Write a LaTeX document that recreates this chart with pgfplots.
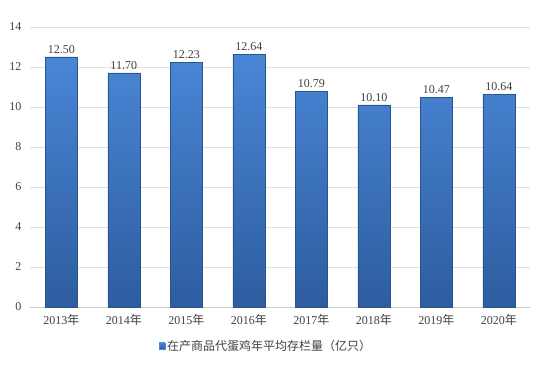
\documentclass[border=0pt]{standalone}
\usepackage{pgfplots}
\pgfplotsset{compat=1.18}
\usepackage{fontspec}
\setmainfont{Liberation Serif}
\newfontfamily\cjk{Noto Sans CJK SC}
\definecolor{bartop}{HTML}{4A86D6}
\definecolor{barbot}{HTML}{2D5D9F}
\definecolor{txt}{HTML}{404040}
\begin{document}
\begin{tikzpicture}
\begin{axis}[
  scale only axis, width=500pt, height=280pt,
  xmin=-0.5, xmax=7.5, ymin=0, ymax=14,
  ytick={0,2,...,14},
  xtick={0,...,7},
  xticklabels={2013{\cjk 年},2014{\cjk 年},2015{\cjk 年},2016{\cjk 年},2017{\cjk 年},2018{\cjk 年},2019{\cjk 年},2020{\cjk 年}},
  /pgf/number format/assume math mode=true,
  tick label style={font=\fontsize{12}{14}\selectfont, text=txt},
  yticklabel style={xshift=-5pt},
  xticklabel style={yshift=-4pt},
  axis line style={draw=none},
  axis x line*=bottom,
  x axis line style={draw=gray!40, line width=0.8pt},
  major tick length=0pt,
  ymajorgrids, grid style={draw=gray!25, line width=0.7pt},
  ybar, bar width=32pt,
  nodes near coords,
  nodes near coords style={font=\fontsize{12}{14}\selectfont, text=txt, /pgf/number format/.cd, fixed, fixed zerofill, precision=2, assume math mode=true},
  clip=false,
  legend style={at={(0.472,-0.139)}, anchor=center, draw=none, font=\fontsize{12}{14}\selectfont\cjk\color{txt}, inner sep=1pt},
  legend image code/.code={\fill[barbot, draw=bartop] (0pt,-3pt) rectangle (6pt,3pt);},
]
\addplot[draw=barbot!90!black, top color=bartop, bottom color=barbot, line width=0.4pt] coordinates {
(0,12.50) (1,11.70) (2,12.23) (3,12.64) (4,10.79) (5,10.10) (6,10.47) (7,10.64)};
\addlegendentry{在产商品代蛋鸡年平均存栏量（亿只）}
\end{axis}
\path (-30pt,-57pt) rectangle (507pt,307pt);
\end{tikzpicture}
\end{document}
